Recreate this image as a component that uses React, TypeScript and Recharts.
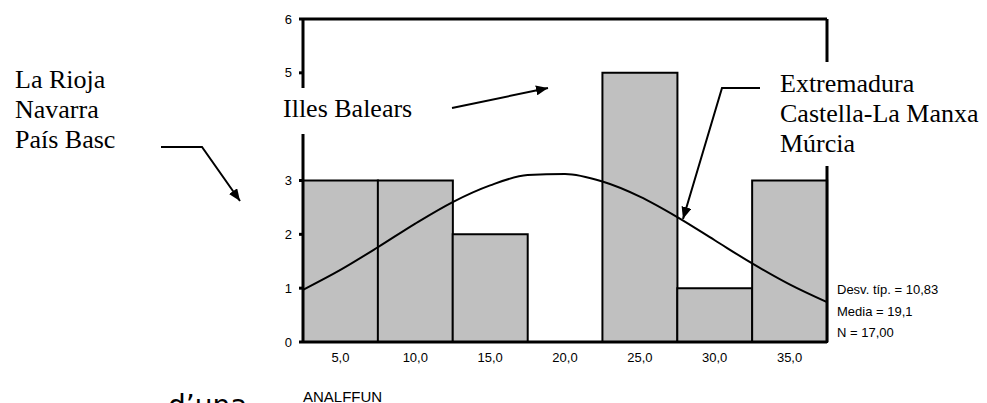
import React from 'react';
import {
  ComposedChart,
  Bar,
  Line,
  XAxis,
  YAxis,
  ReferenceLine,
} from 'recharts';

// ---- data ----
const binLabels = ['5,0', '10,0', '15,0', '20,0', '25,0', '30,0', '35,0'];
const binCounts = [3, 3, 2, 0, 5, 1, 3];
const curveX = [2.5, 5, 7.5, 10, 12.5, 15, 17.5, 20, 22.5, 25, 27.5, 30, 32.5, 35, 37.5];
const curveY = [0.97, 1.34, 1.76, 2.2, 2.6, 2.91, 3.1, 3.12, 2.98, 2.7, 2.32, 1.89, 1.46, 1.07, 0.74];
// tick "4" is hidden behind the "Illes Balears" note in the reference
const yTicks = [0, 1, 2, 3, 5, 6];
const xDomain: [number, number] = [2.5, 37.5];
const yDomain: [number, number] = [0, 6];
const statsLines = ['Desv. típ. = 10,83', 'Media = 19,1', 'N = 17,00'];
const variableName = 'ANALFFUN';
const leftNote = ['La Rioja', 'Navarra', 'País Basc'];
const midNote = 'Illes Balears';
const rightNote = ['Extremadura', 'Castella-La Manxa', 'Múrcia'];
const captionFragment = 'd’una';

const binData = binLabels.map((label, i) => ({ bin: label, count: binCounts[i] }));
const curveData = curveX.map((x, i) => ({ x, y: curveY[i] }));

const SANS = '"Liberation Sans", Arial, sans-serif';
const SERIF = '"Liberation Serif", "Times New Roman", serif';

export default function App() {
  return (
    <div
      style={{
        position: 'absolute',
        left: 0,
        top: 0,
        width: 987,
        height: 403,
        background: '#fff',
        overflow: 'hidden',
      }}
    >
      <ComposedChart
        width={987}
        height={403}
        data={binData}
        margin={{ top: 19, right: 160, bottom: 31, left: 263 }}
        barCategoryGap={0}
        barGap={0}
      >
        <XAxis
          xAxisId="bins"
          dataKey="bin"
          type="category"
          height={30}
          tickLine={false}
          tickSize={0}
          tickMargin={11}
          axisLine={{ stroke: '#000', strokeWidth: 3 }}
          tick={{ fill: '#000', fontSize: 13, fontFamily: SANS }}
          interval={0}
        />
        <XAxis
          xAxisId="curve"
          dataKey="x"
          type="number"
          domain={xDomain}
          allowDataOverflow
          hide
        />
        <YAxis
          type="number"
          domain={yDomain}
          ticks={yTicks}
          interval={0}
          width={40}
          tickSize={4}
          tickMargin={7}
          axisLine={{ stroke: '#000', strokeWidth: 3 }}
          tickLine={{ stroke: '#000', strokeWidth: 3 }}
          tick={{ fill: '#000', fontSize: 13, fontFamily: SANS }}
        />
        <Bar
          xAxisId="bins"
          dataKey="count"
          fill="#c0c0c0"
          stroke="#000"
          strokeWidth={2}
          isAnimationActive={false}
        />
        <Line
          xAxisId="curve"
          data={curveData}
          dataKey="y"
          type="monotone"
          stroke="#000"
          strokeWidth={2}
          dot={false}
          activeDot={false}
          isAnimationActive={false}
        />
        <ReferenceLine xAxisId="bins" y={6} stroke="#000" strokeWidth={3} />
        <ReferenceLine xAxisId="curve" x={37.5} stroke="#000" strokeWidth={3} />
      </ComposedChart>

      <svg
        width={987}
        height={403}
        style={{ position: 'absolute', left: 0, top: 0, pointerEvents: 'none' }}
      >
        <defs>
          <marker
            id="arrowHead"
            markerUnits="userSpaceOnUse"
            markerWidth={14}
            markerHeight={10}
            refX={12}
            refY={5}
            orient="auto"
          >
            <path d="M0,0 L12,5 L0,10 Z" fill="#000" />
          </marker>
        </defs>

        {/* left note */}
        {leftNote.map((t, i) => (
          <text key={t} x={15} y={88 + i * 30} fontFamily={SERIF} fontSize={26} fill="#000">
            {t}
          </text>
        ))}
        <polyline
          points="161,147 202,147 240,201"
          fill="none"
          stroke="#000"
          strokeWidth={2}
          markerEnd="url(#arrowHead)"
        />

        {/* middle note (its white box hides part of the left axis) */}
        <rect x={277} y={88} width={168} height={46} fill="#fff" />
        <text x={283} y={117} fontFamily={SERIF} fontSize={26} fill="#000">
          {midNote}
        </text>
        <line
          x1={452}
          y1={108}
          x2={548}
          y2={88}
          stroke="#000"
          strokeWidth={2}
          markerEnd="url(#arrowHead)"
        />

        {/* right note (its white box hides part of the right frame) */}
        <rect x={772} y={62} width={215} height={104} fill="#fff" />
        {rightNote.map((t, i) => (
          <text key={t} x={780} y={92 + i * 30} fontFamily={SERIF} fontSize={26} fill="#000">
            {t}
          </text>
        ))}
        <polyline
          points="760,88 722,88 683,219"
          fill="none"
          stroke="#000"
          strokeWidth={2}
          markerEnd="url(#arrowHead)"
        />

        {/* statistics */}
        {statsLines.map((t, i) => (
          <text key={t} x={837} y={294 + i * 21.5} fontFamily={SANS} fontSize={13} fill="#000">
            {t}
          </text>
        ))}

        {/* variable name */}
        <text x={303} y={402} fontFamily={SANS} fontSize={15} fill="#000">
          {variableName}
        </text>

        {/* caption fragment, cut off by the bottom edge as in the reference */}
        <text x={168} y={415} fontFamily='"DejaVu Sans", sans-serif' fontSize={28} fill="#000">
          {captionFragment}
        </text>
      </svg>
    </div>
  );
}
